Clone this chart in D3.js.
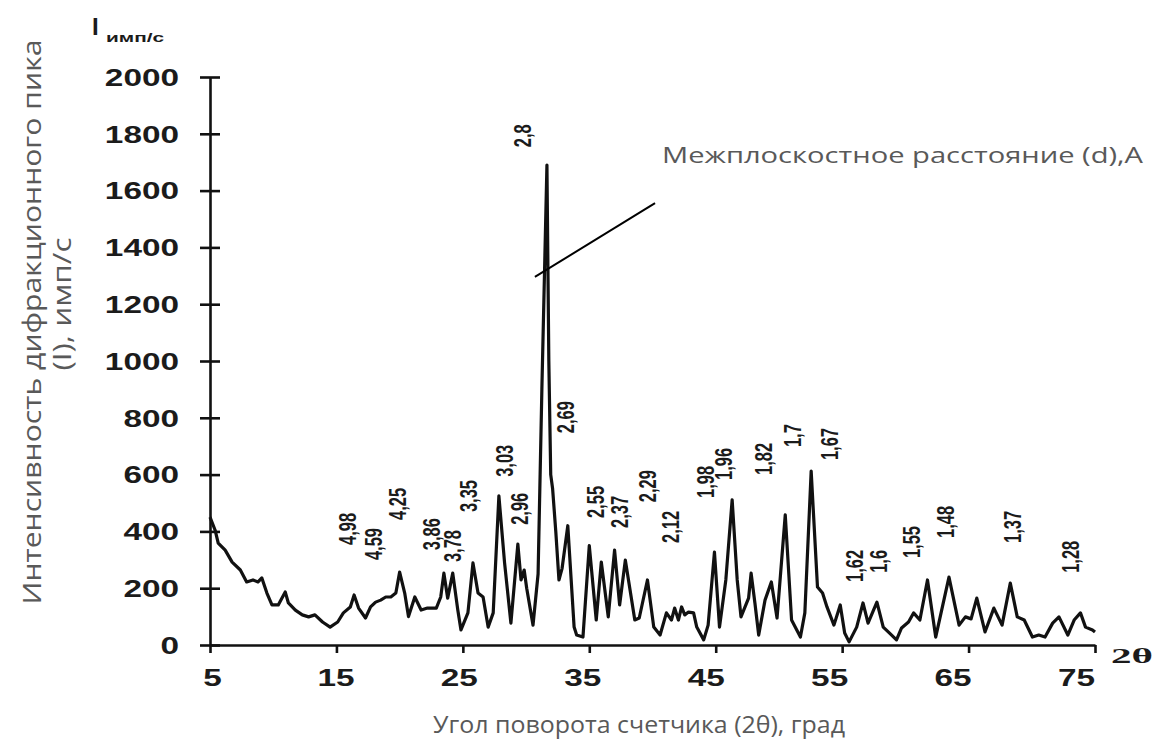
<!DOCTYPE html>
<html>
<head>
<meta charset="utf-8">
<script src="https://cdn.jsdelivr.net/npm/d3@7"></script>
<style>
  html, body { margin: 0; padding: 0; background: #fff; }
  svg { display: block; }
</style>
</head>
<body>
<svg id="chart" width="1161" height="751"></svg>
<script>
// Diffraction pattern: counter angle 2θ (degrees) vs. intensity (counts/s)
const twoTheta = [
  5.0, 5.4, 5.65, 6.2, 6.75, 7.4, 7.9, 8.4, 8.8, 9.1, 9.5, 9.9, 10.4, 10.95, 11.2, 11.75,
  12.3, 12.8, 13.3, 13.9, 14.5, 15.1, 15.55, 16.1, 16.4, 16.75, 17.3, 17.7, 18.1, 18.5,
  18.9, 19.3, 19.7, 20.0, 20.4, 20.7, 21.2, 21.7, 22.2, 22.9, 23.25, 23.5, 23.8, 24.2,
  24.6, 24.85, 25.4, 25.8, 26.2, 26.6, 27.0, 27.4, 27.85, 28.3, 28.8, 29.35, 29.6, 29.85,
  30.05, 30.55, 30.95, 31.25, 31.65, 31.8, 31.95, 32.1, 32.35, 32.6, 32.85, 33.3, 33.8,
  34.0, 34.5, 35.0, 35.55, 35.95, 36.5, 37.0, 37.4, 37.85, 38.6, 38.95, 39.6, 40.1, 40.6,
  41.1, 41.5, 41.75, 42.05, 42.3, 42.55, 42.85, 43.25, 43.5, 44.05, 44.4, 44.9, 45.3,
  45.8, 46.3, 46.7, 47.0, 47.6, 47.8, 48.1, 48.4, 48.9, 49.4, 49.85, 50.5, 51.0, 51.7,
  52.05, 52.55, 53.05, 53.45, 53.8, 54.35, 54.85, 55.2, 55.55, 56.15, 56.65, 57.05,
  57.75, 58.25, 58.75, 59.3, 59.7, 60.25, 60.65, 61.15, 61.75, 62.4, 63.45, 64.25, 64.75,
  65.2, 65.65, 66.3, 67.0, 67.65, 68.3, 68.85, 69.4, 70.05, 70.55, 71.05, 71.65, 72.15,
  72.85, 73.35, 73.85, 74.25, 74.8, 75.0
];
const intensity = [
  450, 405, 359, 334, 292, 264, 222, 229, 222, 236, 183, 141, 141, 187, 148, 123,
  106, 99, 106, 81, 63, 81, 113, 134, 176, 130, 95, 134, 151, 158,
  169, 169, 183, 257, 183, 100, 169, 123, 130, 130, 169, 253, 165, 253,
  123, 53, 113, 289, 183, 169, 63, 113, 525, 289, 77, 355, 229, 264,
  200, 70, 250, 900, 1690, 1000, 600, 550, 400, 229, 270, 420, 63,
  35, 28, 350, 88, 292, 99, 334, 141, 299, 88, 95, 229, 63, 35,
  113, 88, 130, 88, 134, 106, 116, 113, 63, 18, 70, 327, 63,
  229, 511, 229, 99, 165, 253, 148, 35, 158, 222, 95, 458, 88, 28,
  113, 612, 204, 183, 134, 70, 141, 42, 11, 63, 148, 77,
  151, 63, 42, 18, 60, 81, 113, 88, 229, 28, 239, 70, 99,
  92, 165, 46, 130, 70, 218, 99, 88, 28, 35, 28, 77, 99,
  35, 88, 113, 63, 53, 46
];

// Interplanar spacing annotations (d, Å): text, 2θ of the label, intensity level of its lower end
const peakLabels = ["4,98", "4,59", "4,25", "3,86", "3,78", "3,35", "3,03", "2,96", "2,8", "2,69",
  "2,55", "2,37", "2,29", "2,12", "1,98", "1,96", "1,82", "1,7", "1,67", "1,62", "1,6",
  "1,55", "1,48", "1,37", "1,28"];
const peakLabelAngle = [15.85, 17.9, 19.8, 22.5, 24.15, 25.4, 28.25, 29.5, 29.7, 33.1,
  35.5, 37.35, 39.6, 41.4, 44.2, 45.6, 48.75, 51.05, 54.0, 56.0, 57.85,
  60.5, 63.15, 68.45, 73.05];
const peakLabelLevel = [352, 299, 440, 334, 292, 468, 592, 423, 1753, 746,
  447, 412, 503, 359, 518, 581, 599, 697, 651, 222, 254,
  306, 377, 359, 254];

// Leader line from the main peak towards the caption
const leaderAngle = [30.7, 40.2];
const leaderLevel = [1296, 1556];

const xTicks = [5, 15, 25, 35, 45, 55, 65, 75];
const yTicks = [0, 200, 400, 600, 800, 1000, 1200, 1400, 1600, 1800, 2000];

const svg = d3.select("#chart");

const x = d3.scaleLinear().domain([5, 75]).range([210, 1095]);
const y = d3.scaleLinear().domain([0, 2000]).range([645, 77]);
// tick numbers below the axis sit on a slightly tighter spacing
const xLabelPos = d3.scaleLinear().domain([5, 75]).range([212, 1076]);

const STRETCH = 1.45;
const tickFont = "'Liberation Sans', Arial, sans-serif";

// Y axis (ticks cross the axis line)
const yAxis = svg.append("g")
  .attr("transform", `translate(${x(5)},0)`)
  .call(d3.axisLeft(y).tickValues(yTicks).tickSize(10).tickSizeOuter(0).tickFormat(d3.format("d")));
yAxis.select(".domain").attr("stroke", "#111").attr("stroke-width", 2.6);
yAxis.selectAll(".tick line").attr("x1", 10).attr("stroke", "#111").attr("stroke-width", 2.6);
yAxis.selectAll(".tick text")
  .attr("x", -31 / STRETCH)
  .attr("dy", "0.36em")
  .attr("transform", `scale(${STRETCH},1)`)
  .attr("font-family", tickFont)
  .attr("font-weight", "bold")
  .attr("font-size", 23)
  .attr("fill", "#1b1b1b");

// X axis
const xAxis = svg.append("g")
  .attr("transform", `translate(0,${y(0)})`)
  .call(d3.axisBottom(x).tickValues(xTicks).tickSize(8).tickSizeOuter(0).tickFormat(d3.format("d")));
xAxis.select(".domain").attr("stroke", "#111").attr("stroke-width", 2.6);
xAxis.selectAll(".tick line").attr("stroke", "#111").attr("stroke-width", 2.6);
xAxis.selectAll(".tick text")
  .attr("y", 41)
  .attr("dy", null)
  .attr("x", d => (xLabelPos(d) - x(d)) / STRETCH)
  .attr("transform", `scale(${STRETCH},1)`)
  .attr("font-family", tickFont)
  .attr("font-weight", "bold")
  .attr("font-size", 23)
  .attr("fill", "#1b1b1b");

// Diffraction curve
const line = d3.line()
  .x((d, i) => x(twoTheta[i]))
  .y(d => y(d));
svg.append("path")
  .datum(intensity)
  .attr("d", line)
  .attr("fill", "none")
  .attr("stroke", "#111")
  .attr("stroke-width", 3.2)
  .attr("stroke-linejoin", "round");

// Leader line
svg.append("line")
  .attr("x1", x(leaderAngle[0])).attr("y1", y(leaderLevel[0]))
  .attr("x2", x(leaderAngle[1])).attr("y2", y(leaderLevel[1]))
  .attr("stroke", "#000").attr("stroke-width", 2);

// Vertical d-spacing labels
svg.append("g").selectAll("text")
  .data(peakLabels)
  .join("text")
  .attr("transform", (d, i) => `translate(${x(peakLabelAngle[i])},${y(peakLabelLevel[i])}) scale(${STRETCH},1) rotate(-90)`)
  .attr("dy", "0.36em")
  .attr("font-family", tickFont)
  .attr("font-weight", "bold")
  .attr("font-size", 16.5)
  .attr("fill", "#1b1b1b")
  .text(d => d);

// Axis unit at the top of the y axis
svg.append("text")
  .attr("x", 92).attr("y", 35)
  .attr("font-family", tickFont).attr("font-weight", "bold").attr("font-size", 24)
  .attr("fill", "#1b1b1b")
  .text("I");
svg.append("text")
  .attr("x", 106).attr("y", 42)
  .attr("font-family", tickFont).attr("font-weight", "bold").attr("font-size", 12)
  .attr("textLength", 58).attr("lengthAdjust", "spacingAndGlyphs")
  .attr("fill", "#1b1b1b")
  .text("имп/с");

// 2θ at the end of the x axis
svg.append("text")
  .attr("x", 1111).attr("y", 663)
  .attr("font-family", "'Liberation Serif', serif").attr("font-weight", "bold").attr("font-size", 21)
  .attr("textLength", 42).attr("lengthAdjust", "spacingAndGlyphs")
  .attr("fill", "#1b1b1b")
  .text("2θ");

const titleFont = "'Open Sans', 'Noto Sans', sans-serif";
const titleColor = "#595959";

// Y axis title (two lines)
svg.append("text")
  .attr("transform", "translate(32,322) rotate(-90)")
  .attr("text-anchor", "middle").attr("dy", "0.36em")
  .attr("font-family", titleFont).attr("font-size", 26)
  .attr("textLength", 565).attr("lengthAdjust", "spacingAndGlyphs")
  .attr("fill", titleColor)
  .text("Интенсивность дифракционного пика");
svg.append("text")
  .attr("transform", "translate(62,304) rotate(-90)")
  .attr("text-anchor", "middle").attr("dy", "0.36em")
  .attr("font-family", titleFont).attr("font-size", 26)
  .attr("textLength", 133).attr("lengthAdjust", "spacingAndGlyphs")
  .attr("fill", titleColor)
  .text("(I), имп/с");

// X axis title
svg.append("text")
  .attr("x", 639).attr("y", 733)
  .attr("text-anchor", "middle")
  .attr("font-family", "'Liberation Sans Narrow', 'Open Sans', sans-serif").attr("font-size", 24)
  .attr("textLength", 412).attr("lengthAdjust", "spacingAndGlyphs")
  .attr("fill", titleColor)
  .text("Угол поворота счетчика (2θ),  град");

// Caption for the d-spacing labels
svg.append("text")
  .attr("x", 662).attr("y", 163)
  .attr("font-family", titleFont).attr("font-size", 22)
  .attr("textLength", 481).attr("lengthAdjust", "spacingAndGlyphs")
  .attr("fill", titleColor)
  .text("Межплоскостное расстояние (d),А");
</script>
</body>
</html>
